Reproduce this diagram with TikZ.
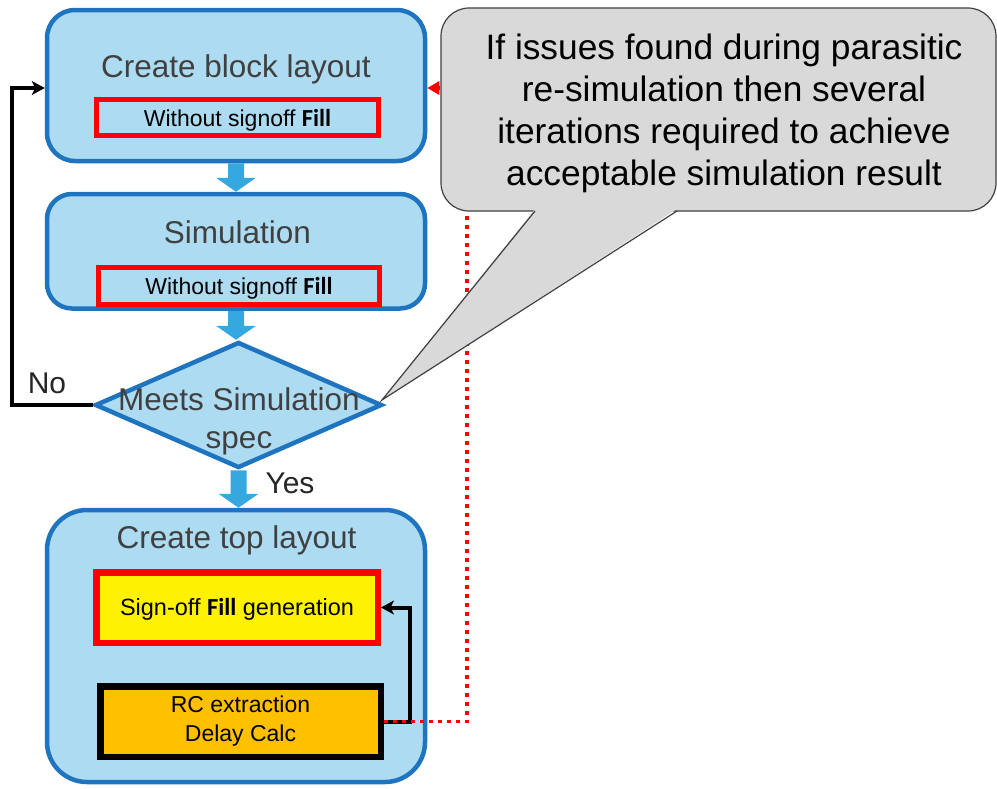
\documentclass[tikz,border=0pt]{standalone}
\usepackage{fontspec}
\setmainfont{Liberation Sans}
\newfontfamily\calibri{Carlito}
\usetikzlibrary{shapes.geometric,arrows.meta,calc}
\definecolor{boxfill}{HTML}{ADDBF1}
\definecolor{boxline}{HTML}{1F74BF}
\definecolor{arrowblue}{HTML}{35A8E0}
\definecolor{txtgray}{HTML}{404040}
\definecolor{callfill}{HTML}{D9D9D9}
\definecolor{orangefill}{HTML}{FFC000}
\definecolor{redline}{HTML}{FF0000}
\definecolor{darktxt}{HTML}{262626}
\newcommand\fillword{{\calibri\bfseries\fontsize{24.5}{26}\selectfont Fill}}
\newcommand\blockarrow[2]{\fill[arrowblue] let \p1=(#1), \p2=(#2) in
  (\x1-8pt,\y1) -- (\x1+8pt,\y1) -- (\x1+8pt,\y2+14pt) -- (\x1+20pt,\y2+14pt)
  -- (\x1,\y2) -- (\x1-20pt,\y2+14pt) -- (\x1-8pt,\y2+14pt) -- cycle;}
\begin{document}
\begin{tikzpicture}[x=1pt,y=-1pt,
  stage/.style={draw=boxline, fill=boxfill, line width=4.5pt, rounded corners=#1, inner sep=0pt},
  stage/.default=28pt,
  title/.style={anchor=base, text=txtgray, font=\fontsize{31.5}{36}\selectfont},
  redbox/.style={draw=redline, fill=boxfill, line width=5pt, inner sep=0pt, text height=17pt, text depth=0pt, font=\fontsize{23}{26}\selectfont},
  fillbox/.style={draw=redline, fill=yellow, line width=6.5pt, inner sep=0pt, text height=16pt, text depth=0pt, font=\fontsize{23.5}{28}\selectfont},
  calcbox/.style={draw=black, fill=orangefill, line width=6.5pt, inner sep=0pt, align=center, font=\fontsize{23}{29}\selectfont},
  decision/.style={diamond, draw=boxline, fill=boxfill, line width=4.5pt, inner sep=0pt},
  flowtip/.style={-{Stealth[length=13pt,width=14pt,inset=3.5pt]}},
  redtip/.style={-{Triangle[length=12pt,width=13pt]}},
  answer/.style={anchor=base, text=darktxt, font=\fontsize{30}{36}\selectfont},
  callout/.style={draw=txtgray, fill=callfill, line width=1.2pt, rounded corners=28pt, inner sep=0pt}
]
\useasboundingbox (0,0) rectangle (997,788);
\fill[white] (0,0) rectangle (997,788);

% stages
\node[stage=28pt, minimum width=378pt, minimum height=151pt] (b1) at (236,85.5) {};
\node[title] (b1t) at (236,77) {Create block layout};
\node[redbox, minimum width=282pt, minimum height=36pt] (b1i) at (237.5,117.5) {Without signoff \fillword};

\node[stage=25pt, minimum width=378pt, minimum height=114.5pt] (b2) at (236,251.25) {};
\node[title] (b2t) at (237.5,243) {Simulation};
\node[redbox, minimum width=281pt, minimum height=37pt] (b2i) at (239,286) {Without signoff \fillword};

\node[decision, minimum width=287pt, minimum height=126pt] (dia) at (238.5,405) {};
\node[text=txtgray, align=center, font=\fontsize{31.5}{38}\selectfont] (diat) at (239,421) {Meets Simulation\\spec};

\node[stage=40pt, minimum width=378pt, minimum height=272pt] (b3) at (236,646) {};
\node[title] (b3t) at (236.5,548) {Create top layout};
\node[fillbox, minimum width=281.5pt, minimum height=70.5pt] (ye) at (237,607.5) {Sign-off \fillword\ generation};
\node[calcbox, minimum width=280.5pt, minimum height=70.5pt] (or) at (240.5,721.5) {RC extraction\\Delay Calc};

% block arrows
\blockarrow{b1.south}{b2.north}
\blockarrow{b2.south}{dia.north}
\blockarrow{dia.south}{b3.north}

% helper coordinates
\coordinate (lx) at (12,0);
\coordinate (rx) at (467,0);
\coordinate (bx) at (410,0);
\coordinate (redend) at ([yshift=-2.5pt]b1.east);

% connectors
\draw[black, line width=4pt, flowtip] (dia.west) -- (dia.west -| lx) |- ([yshift=-2.5pt]b1.west);
\draw[black, line width=4pt, flowtip] (or.east) -- (or.east -| bx) |- (ye.east);
\draw[redline, line width=3.5pt, dash pattern=on 4pt off 5pt] (or.east) -- (or.east -| rx) |- ([xshift=12pt]redend);
\draw[redline, line width=3.5pt, redtip] ([xshift=13pt]redend) -- (redend);

% labels
\node[answer] (no) at (47,393) {No};
\node[answer] (yes) at (290,493) {Yes};

% callout
\node[callout, minimum width=555pt, minimum height=203pt] (co) at (718.5,109.5) {};
\coordinate (cotip) at (382,400);
\fill[callfill] (535,209) -- (cotip) -- (677,209) -- cycle;
\draw[txtgray, line width=1.2pt, line join=miter] (535,211) -- (cotip) -- (677,211);
\node[align=center, text=black, font=\fontsize{35.3}{42}\selectfont] (cot) at (724,113)
  {If issues found during parasitic\\re-simulation then several\\iterations required to achieve\\acceptable simulation result};
\end{tikzpicture}
\end{document}
